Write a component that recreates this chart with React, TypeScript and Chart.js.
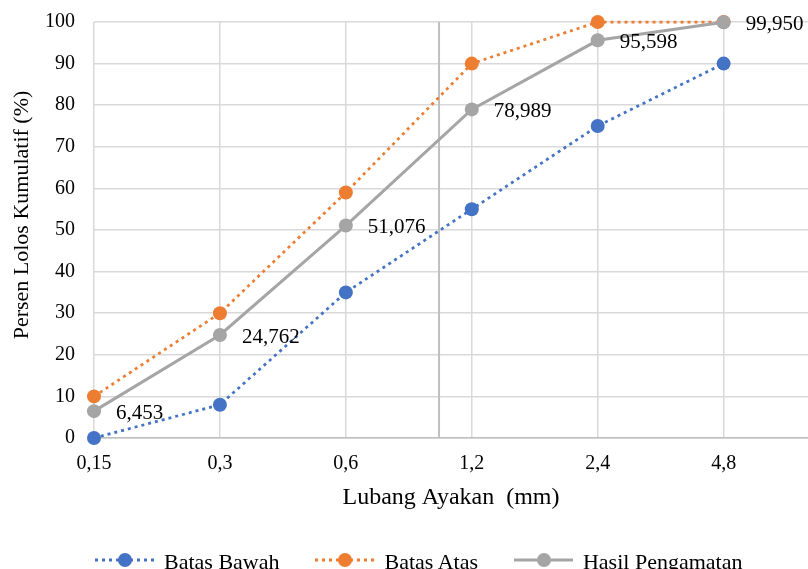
import React, { useEffect, useRef } from "react";
import { Chart, registerables } from "chart.js";

Chart.register(...registerables);

// ---- data ----
const sieveSizes = ["0,15", "0,3", "0,6", "1,2", "2,4", "4,8"];
const batasBawah = [0, 8, 35, 55, 75, 90];
const batasAtas = [10, 30, 59, 90, 100, 100];
const hasilPengamatan = [6.453, 24.762, 51.076, 78.989, 95.598, 99.95];
const yMin = 0;
const yMax = 100;
const yStep = 10;
const xMax = 5.67;
const dividerAt = 2.74;

const seriesNames = ["Batas Bawah", "Batas Atas", "Hasil Pengamatan"];
const xTitle = "Lubang Ayakan  (mm)";
const yTitle = "Persen Lolos Kumulatif (%)";

const BLUE = "#4472c4";
const ORANGE = "#ed7d31";
const GRAY = "#a5a5a5";
const FONT = "'Liberation Serif', 'Times New Roman', serif";

const fmt = (v: number) => v.toFixed(3).replace(".", ",");

const toPoints = (arr: number[]) => arr.map((y, i) => ({ x: i, y }));

const labelPlugin = {
  id: "hasilLabels",
  afterDatasetsDraw(chart: any) {
    const ctx = chart.ctx;
    const meta = chart.getDatasetMeta(2);
    ctx.save();
    ctx.font = `21px ${FONT}`;
    ctx.fillStyle = "#000";
    ctx.textAlign = "left";
    ctx.textBaseline = "middle";
    meta.data.forEach((pt: any, i: number) => {
      ctx.fillText(fmt(hasilPengamatan[i]), pt.x + 22, pt.y + 2);
    });
    ctx.restore();
  },
};

const yTitlePlugin = {
  id: "yTitle",
  afterDraw(chart: any) {
    const { ctx, chartArea } = chart;
    ctx.save();
    ctx.font = `22px ${FONT}`;
    ctx.fillStyle = "#000";
    ctx.textAlign = "center";
    ctx.textBaseline = "middle";
    ctx.translate(chartArea.left - 72, (chartArea.top + chartArea.bottom) / 2 - 15);
    ctx.rotate(-Math.PI / 2);
    ctx.fillText(yTitle, 0, 0);
    ctx.restore();
  },
};

function LegendSymbol({ color, dotted }: { color: string; dotted: boolean }) {
  return (
    <svg width={59} height={24} style={{ display: "block", flex: "0 0 auto" }}>
      <line
        x1={0}
        y1={12}
        x2={59}
        y2={12}
        stroke={color}
        strokeWidth={3}
        strokeDasharray={dotted ? "3 4" : undefined}
      />
      <circle cx={30} cy={12} r={7} fill={color} />
    </svg>
  );
}

export default function App() {
  const canvasRef = useRef<HTMLCanvasElement | null>(null);

  useEffect(() => {
    if (!canvasRef.current) return;
    const chart = new Chart(canvasRef.current, {
      type: "line",
      data: {
        datasets: [
          {
            label: seriesNames[0],
            data: toPoints(batasBawah),
            borderColor: BLUE,
            backgroundColor: BLUE,
            borderWidth: 2.75,
            borderDash: [3, 4],
            pointRadius: 7,
            pointBorderWidth: 0,
            pointBackgroundColor: BLUE,
            order: 2,
            clip: false,
          },
          {
            label: seriesNames[1],
            data: toPoints(batasAtas),
            borderColor: ORANGE,
            backgroundColor: ORANGE,
            borderWidth: 2.75,
            borderDash: [3, 4],
            pointRadius: 7,
            pointBorderWidth: 0,
            pointBackgroundColor: ORANGE,
            order: 1,
            clip: false,
          },
          {
            label: seriesNames[2],
            data: toPoints(hasilPengamatan),
            borderColor: GRAY,
            backgroundColor: GRAY,
            borderWidth: 3,
            pointRadius: 7,
            pointBorderWidth: 0,
            pointBackgroundColor: GRAY,
            order: 0,
            clip: false,
          },
          {
            label: "divider",
            data: [
              { x: dividerAt, y: yMin },
              { x: dividerAt, y: yMax },
            ],
            borderColor: "#bfbfbf",
            borderWidth: 2,
            pointRadius: 0,
            order: 5,
          },
        ],
      },
      options: {
        animation: false,
        responsive: false,
        maintainAspectRatio: false,
        layout: { padding: { top: 22, left: 0, right: 0, bottom: 57 }, autoPadding: false },
        plugins: {
          legend: { display: false },
          tooltip: { enabled: false },
        },
        scales: {
          x: {
            type: "linear",
            min: 0,
            max: xMax,
            afterBuildTicks: (scale: any) => {
              scale.ticks = sieveSizes.map((_, i) => ({ value: i }));
            },
            afterFit: (scale: any) => {
              scale.height = 74;
            },
            grid: { color: "#d9d9d9", lineWidth: 1.5, drawTicks: false },
            border: { display: true, color: "#bfbfbf", width: 1.5 },
            ticks: {
              autoSkip: false,
              maxRotation: 0,
              padding: 14,
              color: "#000",
              font: { family: FONT, size: 20 },
              callback: (v: any) => sieveSizes[Math.round(Number(v))] ?? "",
            },
            title: {
              display: true,
              text: xTitle,
              color: "#000",
              font: { family: FONT, size: 24 },
              padding: { top: 0, bottom: 0 },
            },
          },
          y: {
            min: yMin,
            max: yMax,
            afterFit: (scale: any) => {
              scale.width = 94;
            },
            grid: {
              color: "#d9d9d9",
              lineWidth: 1.5,
              drawTicks: true,
              tickLength: 19,
              tickColor: "rgba(0,0,0,0)",
            },
            border: { display: false },
            ticks: {
              stepSize: yStep,
              padding: 0,
              color: "#000",
              font: { family: FONT, size: 20 },
            },
          },
        },
      },
      plugins: [labelPlugin, yTitlePlugin],
    } as any);
    return () => chart.destroy();
  }, []);

  const legendItems = [
    { name: seriesNames[0], color: BLUE, dotted: true },
    { name: seriesNames[1], color: ORANGE, dotted: true },
    { name: seriesNames[2], color: GRAY, dotted: false },
  ];

  return (
    <div
      style={{
        position: "fixed",
        left: 0,
        top: 0,
        width: 808,
        height: 569,
        overflow: "hidden",
        background: "#fff",
      }}
    >
      <canvas ref={canvasRef} width={808} height={569} style={{ display: "block" }} />
      <div
        style={{
          position: "absolute",
          left: 95,
          top: 548,
          display: "flex",
          alignItems: "center",
          fontFamily: FONT,
          fontSize: 22,
          lineHeight: "24px",
          color: "#000",
          whiteSpace: "nowrap",
        }}
      >
        {legendItems.map((it, i) => (
          <div
            key={it.name}
            style={{ display: "flex", alignItems: "center", marginLeft: i === 0 ? 0 : 36 }}
          >
            <LegendSymbol color={it.color} dotted={it.dotted} />
            <span style={{ marginLeft: 10, position: "relative", top: 2 }}>{it.name}</span>
          </div>
        ))}
      </div>
    </div>
  );
}
